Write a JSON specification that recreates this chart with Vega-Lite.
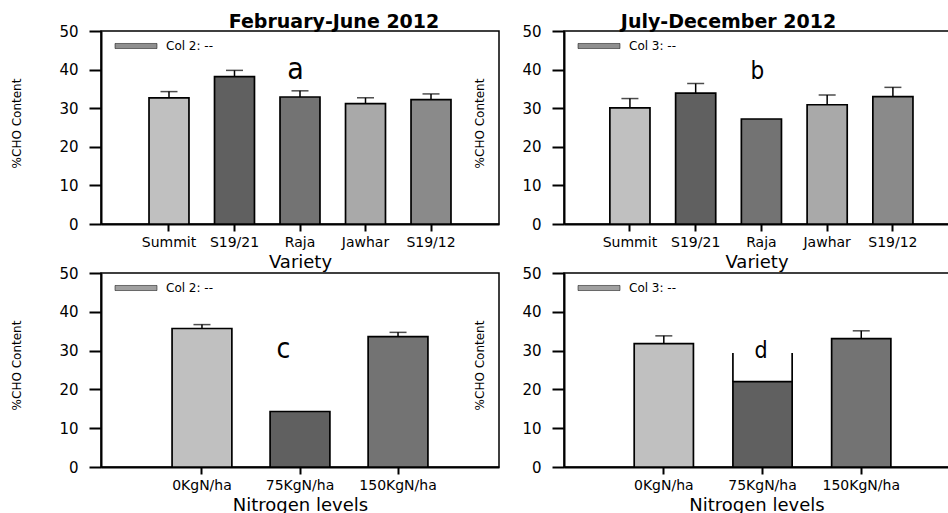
{
  "$schema": "https://vega.github.io/schema/vega-lite/v6.json",
  "padding": {"left": 9, "top": 12, "right": 0, "bottom": 0},
  "background": "white",
  "config": {
    "view": {"stroke": "black", "strokeWidth": 1.5},
    "font": "DejaVu Sans",
    "axis": {"domainColor": "black", "domainWidth": 2, "tickColor": "black", "tickWidth": 2, "labelColor": "black", "titleColor": "black", "grid": false, "labelFont": "DejaVu Sans", "titleFont": "DejaVu Sans", "titleFontWeight": "normal"},
    "axisY": {"tickSize": 12, "labelPadding": 11, "labelFontSize": 15, "titleFontSize": 12, "titleX": -85, "titleY": 92, "titleAngle": 270, "titleAlign": "center", "titleBaseline": "middle"},
    "axisX": {"tickSize": 7, "labelPadding": 4, "labelFontSize": 14, "labelAngle": 0, "labelOverlap": false, "titleFontSize": 18, "titlePadding": 4},
    "title": {"fontSize": 19, "fontWeight": "bold", "font": "DejaVu Sans", "color": "black", "offset": -8},
    "legend": {"orient": "top-left", "offset": 3.5, "padding": 0, "title": null, "symbolType": "M-2,-0.24H2V0.24H-2Z", "symbolSize": 441, "symbolOffset": 20, "symbolStrokeColor": "black", "symbolStrokeWidth": 0.5, "symbolOpacity": 1, "labelFont": "DejaVu Sans", "labelFontSize": 12, "labelColor": "black", "labelOffset": 19}
  },
  "datasets": {
    "a": [
      {"variety": "Summit", "value": 32.7, "err": 34.3},
      {"variety": "S19/21", "value": 38.2, "err": 39.8},
      {"variety": "Raja", "value": 32.9, "err": 34.5},
      {"variety": "Jawhar", "value": 31.2, "err": 32.7},
      {"variety": "S19/12", "value": 32.2, "err": 33.7}
    ],
    "b": [
      {"variety": "Summit", "value": 30.1, "err": 32.5},
      {"variety": "S19/21", "value": 33.9, "err": 36.4},
      {"variety": "Raja", "value": 27.2, "err": null},
      {"variety": "Jawhar", "value": 30.9, "err": 33.4},
      {"variety": "S19/12", "value": 33.0, "err": 35.4}
    ],
    "c": [
      {"level": "0KgN/ha", "value": 35.7, "err": 36.7},
      {"level": "75KgN/ha", "value": 14.3, "err": null},
      {"level": "150KgN/ha", "value": 33.6, "err": 34.7}
    ],
    "d": [
      {"level": "0KgN/ha", "value": 31.8, "err": 33.8},
      {"level": "75KgN/ha", "value": 22.0, "err": null},
      {"level": "150KgN/ha", "value": 33.1, "err": 35.1}
    ]
  },
  "concat": [
    {
      "width": 398, "height": 193,
      "title": {"text": "February-June 2012", "dx": 34},
      "data": {"name": "a"},
      "layer": [
        {"mark": {"type": "rule", "color": "black", "strokeWidth": 1.5},
         "transform": [{"filter": "datum.err != null"}],
         "encoding": {
           "x": {"field": "variety", "type": "nominal", "title": "Variety", "sort": null, "scale": {"domain": ["Summit", "S19/21", "Raja", "Jawhar", "S19/12"], "paddingInner": 0.39, "paddingOuter": 0.733}},
           "y": {"field": "value", "type": "quantitative", "title": "%CHO Content", "scale": {"domain": [0, 50], "nice": false}, "axis": {"values": [0, 10, 20, 30, 40, 50], "tickCount": 6, "labelOverlap": false}},
           "y2": {"field": "err"}}},
        {"mark": {"type": "tick", "color": "black", "thickness": 1.5, "size": 17},
         "transform": [{"filter": "datum.err != null"}],
         "encoding": {
           "x": {"field": "variety", "type": "nominal", "title": "Variety", "sort": null},
           "y": {"field": "err", "type": "quantitative", "title": "%CHO Content"}}},
        {"mark": {"type": "bar", "stroke": "black", "strokeWidth": 1.7},
         "encoding": {
           "x": {"field": "variety", "type": "nominal", "title": "Variety", "sort": null},
           "y": {"field": "value", "type": "quantitative", "title": "%CHO Content"},
           "color": {"field": "variety", "type": "nominal", "legend": null, "scale": {"domain": ["Summit", "S19/21", "Raja", "Jawhar", "S19/12"], "range": ["#c0c0c0", "#606060", "#737373", "#a9a9a9", "#8a8a8a"]}}}},
        {"mark": {"type": "point", "opacity": 0, "filled": true},
         "encoding": {
           "x": {"field": "variety", "type": "nominal", "title": "Variety", "sort": null},
           "y": {"field": "value", "type": "quantitative", "title": "%CHO Content"},
           "fill": {"datum": "Col 2: --", "scale": {"range": ["#8f8f8f"]}}}},
        {"data": {"values": [{"variety": "Raja", "label": "a", "pos": 37.6}]},
         "mark": {"type": "text", "font": "DejaVu Sans Condensed", "fontSize": 30, "baseline": "alphabetic", "dx": -4.5, "color": "black"},
         "encoding": {
           "x": {"field": "variety", "type": "nominal", "title": "Variety", "sort": null},
           "y": {"field": "pos", "type": "quantitative", "title": "%CHO Content"},
           "text": {"field": "label"}}}
      ]
    },
    {
      "width": 385, "height": 193,
      "title": {"text": "July-December 2012", "dx": -28},
      "data": {"name": "b"},
      "layer": [
        {"mark": {"type": "rule", "color": "black", "strokeWidth": 1.5},
         "transform": [{"filter": "datum.err != null"}],
         "encoding": {
           "x": {"field": "variety", "type": "nominal", "title": "Variety", "sort": null, "scale": {"domain": ["Summit", "S19/21", "Raja", "Jawhar", "S19/12"], "paddingInner": 0.39, "paddingOuter": 0.623, "align": 0.56}},
           "y": {"field": "value", "type": "quantitative", "title": "%CHO Content", "scale": {"domain": [0, 50], "nice": false}, "axis": {"values": [0, 10, 20, 30, 40, 50], "tickCount": 6, "labelOverlap": false}},
           "y2": {"field": "err"}}},
        {"mark": {"type": "tick", "color": "black", "thickness": 1.5, "size": 17},
         "transform": [{"filter": "datum.err != null"}],
         "encoding": {
           "x": {"field": "variety", "type": "nominal", "title": "Variety", "sort": null},
           "y": {"field": "err", "type": "quantitative", "title": "%CHO Content"}}},
        {"mark": {"type": "bar", "stroke": "black", "strokeWidth": 1.7},
         "encoding": {
           "x": {"field": "variety", "type": "nominal", "title": "Variety", "sort": null},
           "y": {"field": "value", "type": "quantitative", "title": "%CHO Content"},
           "color": {"field": "variety", "type": "nominal", "legend": null, "scale": {"domain": ["Summit", "S19/21", "Raja", "Jawhar", "S19/12"], "range": ["#c0c0c0", "#606060", "#737373", "#a9a9a9", "#8a8a8a"]}}}},
        {"mark": {"type": "point", "opacity": 0, "filled": true},
         "encoding": {
           "x": {"field": "variety", "type": "nominal", "title": "Variety", "sort": null},
           "y": {"field": "value", "type": "quantitative", "title": "%CHO Content"},
           "fill": {"datum": "Col 3: --", "scale": {"range": ["#8f8f8f"]}}}},
        {"data": {"values": [{"variety": "Raja", "label": "b", "pos": 37.6}]},
         "mark": {"type": "text", "font": "DejaVu Sans Condensed", "fontSize": 24, "baseline": "alphabetic", "dx": -4, "color": "black"},
         "encoding": {
           "x": {"field": "variety", "type": "nominal", "title": "Variety", "sort": null},
           "y": {"field": "pos", "type": "quantitative", "title": "%CHO Content"},
           "text": {"field": "label"}}}
      ]
    },
    {
      "width": 398, "height": 194,
      "data": {"name": "c"},
      "layer": [
        {"mark": {"type": "rule", "color": "black", "strokeWidth": 1.5},
         "transform": [{"filter": "datum.err != null"}],
         "encoding": {
           "x": {"field": "level", "type": "nominal", "title": "Nitrogen levels", "sort": null, "scale": {"domain": ["0KgN/ha", "75KgN/ha", "150KgN/ha"], "paddingInner": 0.39, "paddingOuter": 0.725}},
           "y": {"field": "value", "type": "quantitative", "title": "%CHO Content", "scale": {"domain": [0, 50], "nice": false}, "axis": {"values": [0, 10, 20, 30, 40, 50], "tickCount": 6, "labelOverlap": false}},
           "y2": {"field": "err"}}},
        {"mark": {"type": "tick", "color": "black", "thickness": 1.5, "size": 17},
         "transform": [{"filter": "datum.err != null"}],
         "encoding": {
           "x": {"field": "level", "type": "nominal", "title": "Nitrogen levels", "sort": null},
           "y": {"field": "err", "type": "quantitative", "title": "%CHO Content"}}},
        {"mark": {"type": "bar", "stroke": "black", "strokeWidth": 1.7},
         "encoding": {
           "x": {"field": "level", "type": "nominal", "title": "Nitrogen levels", "sort": null},
           "y": {"field": "value", "type": "quantitative", "title": "%CHO Content"},
           "color": {"field": "level", "type": "nominal", "legend": null, "scale": {"domain": ["0KgN/ha", "75KgN/ha", "150KgN/ha"], "range": ["#c0c0c0", "#606060", "#737373"]}}}},
        {"mark": {"type": "point", "opacity": 0, "filled": true},
         "encoding": {
           "x": {"field": "level", "type": "nominal", "title": "Nitrogen levels", "sort": null},
           "y": {"field": "value", "type": "quantitative", "title": "%CHO Content"},
           "fill": {"datum": "Col 2: --", "scale": {"range": ["#a0a0a0"]}}}},
        {"data": {"values": [{"level": "75KgN/ha", "label": "c", "pos": 28.1}]},
         "mark": {"type": "text", "font": "DejaVu Sans Condensed", "fontSize": 28, "baseline": "alphabetic", "dx": -16.5, "color": "black"},
         "encoding": {
           "x": {"field": "level", "type": "nominal", "title": "Nitrogen levels", "sort": null},
           "y": {"field": "pos", "type": "quantitative", "title": "%CHO Content"},
           "text": {"field": "label"}}}
      ]
    },
    {
      "width": 385, "height": 194,
      "data": {"name": "d"},
      "layer": [
        {"mark": {"type": "rule", "color": "black", "strokeWidth": 1.5},
         "transform": [{"filter": "datum.err != null"}],
         "encoding": {
           "x": {"field": "level", "type": "nominal", "title": "Nitrogen levels", "sort": null, "scale": {"domain": ["0KgN/ha", "75KgN/ha", "150KgN/ha"], "paddingInner": 0.4, "paddingOuter": 0.65, "align": 0.547}},
           "y": {"field": "value", "type": "quantitative", "title": "%CHO Content", "scale": {"domain": [0, 50], "nice": false}, "axis": {"values": [0, 10, 20, 30, 40, 50], "tickCount": 6, "labelOverlap": false}},
           "y2": {"field": "err"}}},
        {"mark": {"type": "tick", "color": "black", "thickness": 1.5, "size": 17},
         "transform": [{"filter": "datum.err != null"}],
         "encoding": {
           "x": {"field": "level", "type": "nominal", "title": "Nitrogen levels", "sort": null},
           "y": {"field": "err", "type": "quantitative", "title": "%CHO Content"}}},
        {"data": {"values": [{"level": "75KgN/ha", "lo": 22.0, "hi": 29.4}]},
         "mark": {"type": "rule", "color": "black", "strokeWidth": 1.7},
         "encoding": {
           "x": {"field": "level", "type": "nominal", "title": "Nitrogen levels", "sort": null, "bandPosition": 0},
           "y": {"field": "lo", "type": "quantitative", "title": "%CHO Content"},
           "y2": {"field": "hi"}}},
        {"data": {"values": [{"level": "75KgN/ha", "lo": 22.0, "hi": 29.4}]},
         "mark": {"type": "rule", "color": "black", "strokeWidth": 1.7},
         "encoding": {
           "x": {"field": "level", "type": "nominal", "title": "Nitrogen levels", "sort": null, "bandPosition": 1},
           "y": {"field": "lo", "type": "quantitative", "title": "%CHO Content"},
           "y2": {"field": "hi"}}},
        {"mark": {"type": "bar", "stroke": "black", "strokeWidth": 1.7},
         "encoding": {
           "x": {"field": "level", "type": "nominal", "title": "Nitrogen levels", "sort": null},
           "y": {"field": "value", "type": "quantitative", "title": "%CHO Content"},
           "color": {"field": "level", "type": "nominal", "legend": null, "scale": {"domain": ["0KgN/ha", "75KgN/ha", "150KgN/ha"], "range": ["#c0c0c0", "#606060", "#737373"]}}}},
        {"mark": {"type": "point", "opacity": 0, "filled": true},
         "encoding": {
           "x": {"field": "level", "type": "nominal", "title": "Nitrogen levels", "sort": null},
           "y": {"field": "value", "type": "quantitative", "title": "%CHO Content"},
           "fill": {"datum": "Col 3: --", "scale": {"range": ["#a0a0a0"]}}}},
        {"data": {"values": [{"level": "75KgN/ha", "label": "d", "pos": 28.2}]},
         "mark": {"type": "text", "font": "DejaVu Sans Condensed", "fontSize": 23, "baseline": "alphabetic", "dx": -1.5, "color": "black"},
         "encoding": {
           "x": {"field": "level", "type": "nominal", "title": "Nitrogen levels", "sort": null},
           "y": {"field": "pos", "type": "quantitative", "title": "%CHO Content"},
           "text": {"field": "label"}}}
      ]
    }
  ],
  "columns": 2,
  "spacing": {"row": 49, "column": 65},
  "bounds": "flush",
  "resolve": {"scale": {"color": "independent", "fill": "independent"}, "legend": {"color": "independent", "fill": "independent"}}
}
